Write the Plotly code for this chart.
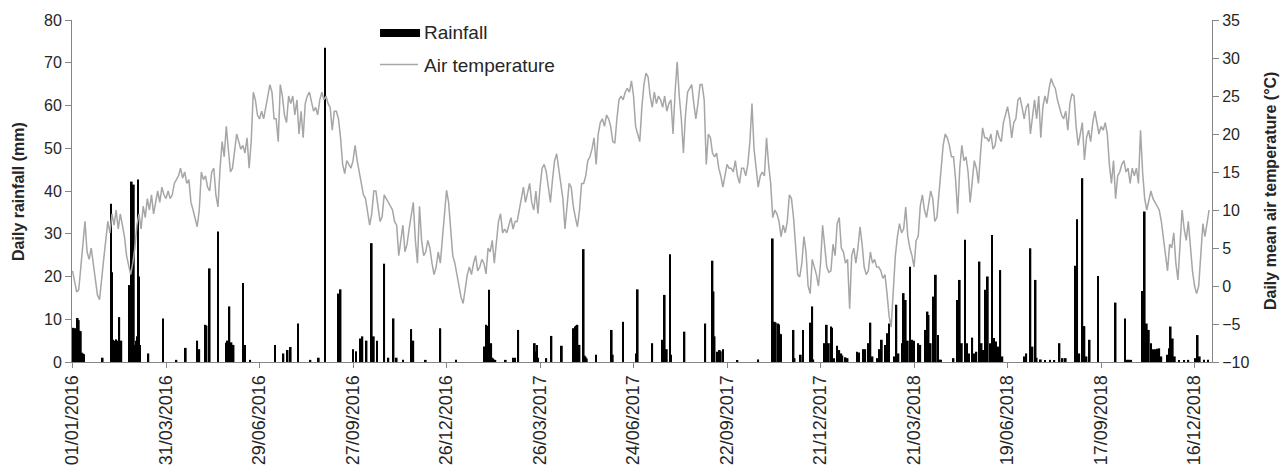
import pandas as pd
import plotly.graph_objects as go

record_start = "2016-01-01"

# Daily mean air temperature (°C), one reading every second day from 1 Jan 2016
temp_c = [
    2.0, 0.5, -0.8, -0.5, 2.5, 5.0, 8.5, 4.5, 3.5, 5.0,
    3.0, 1.5, -1.2, -1.8, 0.5, 3.5, 6.0, 8.5, 7.0, 9.5,
    8.0, 10.0, 7.5, 9.5, 8.0, 6.5, 4.0, 2.5, 1.5, 3.0,
    5.0, 8.0, 9.5, 7.5, 10.5, 9.0, 11.5, 10.0, 12.0, 9.5,
    11.0, 12.5, 11.0, 13.0, 12.0, 11.5,
    12.5, 11.5, 12.0, 13.5, 14.0, 14.5, 15.5, 14.2, 15.0, 13.5,
    14.0, 11.0, 10.0, 9.0, 7.8, 10.0, 15.0, 14.0, 14.5, 13.0,
    12.5, 15.0, 15.5, 12.0, 10.4, 15.5, 19.0, 17.0, 21.0, 18.0,
    15.0, 15.5, 17.5, 20.0, 19.0, 18.0, 18.5, 17.5, 19.5, 15.5,
    19.0, 25.5, 24.5, 22.5, 22.0, 23.0, 22.0, 23.5, 24.5, 26.5,
    25.5, 22.0,
    22.0, 19.0, 26.5, 25.0, 22.5, 21.5, 25.0, 24.0, 25.0, 22.5,
    24.5, 20.0, 23.0, 19.5, 24.0, 25.0, 25.5, 24.0, 23.0, 23.5,
    22.5, 24.5, 25.5, 24.5, 25.0, 24.0, 23.5, 20.5, 23.0, 23.0,
    22.0, 19.5, 16.0, 14.8, 16.5, 16.0, 15.5, 16.5, 18.5, 16.5,
    15.0, 14.0, 12.0, 11.5, 10.0, 8.0, 9.5, 12.5, 12.5, 10.5,
    8.5,
    9.1, 12.0, 11.5, 11.0, 10.5, 10.0, 8.5, 8.0, 4.0, 6.0,
    8.0, 4.5, 5.5, 7.5, 9.5, 11.0, 6.0, 3.0, 10.5, 6.0,
    4.0, 4.5, 6.0, 5.0, 3.0, 1.5, 2.5, 4.5, 3.0, 6.5,
    10.0, 12.6, 11.0, 7.0, 4.0, 3.0, 1.5, -0.5, -1.5, -2.3,
    -0.5, 1.5, 2.5, 1.5, 3.0, 4.0, 2.0, 2.5, 3.5, 3.0,
    1.6, 5.0, 4.5, 6.0, 3.0, 5.5, 8.5, 9.5, 7.0, 7.5,
    7.0, 8.0, 9.0, 7.5, 8.5, 8.5, 10.0, 11.5, 13.0, 11.0,
    12.5, 13.5, 11.0, 10.0, 12.5, 9.5, 13.0, 15.5, 16.0, 15.0,
    13.0, 11.0, 14.0, 16.5, 17.4, 15.5, 13.5, 11.5, 7.5, 10.5,
    13.5, 13.0, 10.5, 9.0, 7.8, 10.0, 13.5, 13.5, 14.5, 16.5,
    17.0, 18.0, 19.5, 16.0, 20.0, 21.5, 22.0, 21.0, 22.5, 22.0,
    21.0, 19.0, 18.8, 22.0, 24.5, 25.0, 24.5, 25.5,
    26.0, 25.5, 27.0, 25.0, 21.0, 20.0, 19.0, 23.5, 26.5, 28.0,
    27.5, 25.0, 23.5, 25.5, 24.0, 25.0, 24.5, 23.5, 25.0, 23.0,
    24.0, 24.5, 20.0, 25.5, 29.5, 25.0, 22.0, 17.5, 22.5, 25.5,
    26.0, 26.5, 24.0, 22.0, 24.0, 26.5, 26.5, 24.5, 16.0, 20.0,
    19.5, 17.5, 17.0, 17.5, 15.5, 14.5, 13.0, 14.5, 16.0, 15.5,
    15.5, 15.0, 16.5, 14.5, 13.5, 15.5, 15.5, 14.5, 16.0, 19.0,
    24.0, 18.0, 15.0, 13.0, 14.5, 15.0, 14.5, 19.5, 16.0, 13.5,
    9.0, 10.0, 9.5, 8.5, 6.5, 8.0, 7.0, 8.5, 12.0, 11.5,
    9.0, 4.5, 1.5, 1.2, 3.0, 6.5, 4.5, 0.0, -1.0, 3.5,
    2.5, 1.5, 0.0, 3.0, 8.0, 5.0, 2.5, 1.8, 2.0, 5.5,
    4.0, 8.2, 9.0, 5.0, 4.5, 3.0, 3.5, -3.0, 4.0, 5.0,
    3.0, 5.0, 7.8, 5.5, 2.5, 1.5, 2.0, 4.5, 3.0, 3.5,
    2.5, 2.5, 2.0, 1.0, 1.5, -1.0, -4.0, -5.4, -1.0, 4.0,
    6.5, 8.2, 7.0, 7.5, 10.4, 6.5, 5.0, 4.0, 2.5, 6.0,
    6.5,
    10.5, 12.0, 10.0, 9.0, 10.5, 12.5, 11.5, 8.5, 9.0, 12.5,
    15.5, 18.5, 20.0, 19.5, 18.5, 17.0, 17.0, 14.0, 9.5, 15.5,
    18.5, 16.5, 17.0, 15.0, 11.0, 14.0, 16.5, 15.5, 13.5, 17.5,
    20.8, 19.5, 19.5, 19.0, 20.0, 18.0, 18.5, 20.5, 19.5, 19.0,
    21.5, 22.5, 23.6, 22.0, 19.5, 21.5, 22.0, 24.5, 24.8, 23.5,
    22.0, 23.5, 24.0, 20.0, 22.5, 24.5, 22.0, 25.0, 19.5, 23.5,
    25.0, 24.0, 26.0, 27.3, 26.5, 26.0, 24.5, 23.5, 22.5, 22.0,
    23.0, 20.5, 24.0, 25.3, 25.0, 21.0, 18.5, 20.0, 21.5, 16.6,
    19.5, 20.5, 19.0, 21.5, 23.0, 21.5, 20.0, 21.0, 20.5, 21.5,
    20.0, 16.0, 13.5, 16.5, 11.5, 14.5, 15.0, 16.0, 16.5, 15.0,
    15.5, 13.5, 15.5, 14.5, 15.5, 13.5, 20.5, 15.0, 11.5, 10.0,
    11.5, 12.5, 11.5, 11.0, 10.5, 10.0, 8.5, 6.5, 4.0, 2.0,
    5.5, 5.0, 7.0, 3.0, 0.8, 5.5, 10.0, 7.5, 6.0, 8.5,
    5.0, 2.0, 0.0, -1.0, 0.0, 4.0, 8.2, 6.5, 8.0, 10.0,
]

# Rain days: day number counted from 1 Jan 2016, with the depth measured that day (mm)
rain_day = [
    0, 1, 2, 3, 4, 5, 6, 7, 8, 9, 10, 11,
    29,
    37, 38, 39, 40, 41, 42, 43, 45, 47,
    55, 56, 57, 58, 59, 60, 61, 62, 63, 64, 65,
    73, 87, 100, 109, 120, 122, 128, 129, 132, 140,
    148, 149, 151, 153, 155, 164, 166, 171,
    195, 203, 207, 210, 217, 229, 237, 243,
    256, 258, 270, 273, 277, 279, 283, 288, 290, 293,
    300, 304, 309, 312, 318, 326, 328, 340, 354,
    369,
    396, 398, 399, 401, 403, 404, 405, 406, 407,
    417, 424, 426, 429, 445, 446, 447, 448,
    456, 461, 471, 482, 483, 484, 485, 486, 488,
    492, 493, 494, 495, 504, 519, 520, 530, 543, 544,
    558, 568, 570, 572, 575, 576, 589, 609,
    616, 617, 618, 621, 623, 624, 626, 640, 660,
    674, 676, 677, 679, 680, 681, 682, 694, 695,
    701, 703, 710, 712, 713, 724, 726, 728, 730,
    731, 733, 736, 738, 740, 741, 744, 746,
    755, 757, 761, 763, 766, 768, 770,
    775, 777, 779, 782, 784, 786,
    791, 793, 795, 799, 800, 802, 804, 806, 808, 810, 814, 816,
    821, 823, 824, 826, 829, 831, 833, 834, 835, 836,
    848, 852, 854, 856, 859, 861, 863, 866, 868, 870,
    873, 875, 877, 879, 881, 883, 885, 887, 889, 891, 893, 895,
    916, 918, 922, 924, 927, 928, 932, 936, 941, 945, 950, 953, 956,
    965, 967, 969, 972, 974, 976, 979, 987, 1004,
    1013, 1015, 1017, 1019,
    1030, 1032, 1034, 1036, 1038, 1040, 1042, 1044, 1046, 1048,
    1054, 1056, 1057, 1059, 1061, 1065, 1070, 1074,
    1081, 1083, 1085, 1089, 1093,
]
rain_mm = [
    7.8, 8.0, 7.6, 7.9, 3.8, 10.3, 9.8, 7.3, 7.2, 2.2, 2.0, 1.8,
    1.0,
    37.0, 21.0, 5.2, 5.0, 4.8, 5.3, 5.0, 10.5, 5.0,
    18.0, 5.0, 42.2, 4.0, 41.5, 4.0, 5.0, 6.0, 42.7, 20.0, 4.0,
    2.0, 10.2, 0.5, 3.3, 5.0, 3.0, 8.7, 8.5, 21.9, 30.5,
    4.5, 5.0, 13.0, 4.6, 4.0, 18.5, 4.0, 0.5,
    4.0, 2.0, 2.8, 3.5, 9.0, 0.5, 1.0, 73.5,
    16.0, 17.0, 3.0, 2.5, 5.5, 6.0, 5.0, 27.8, 6.0, 5.0,
    23.0, 1.0, 10.2, 1.0, 0.5, 7.7, 5.0, 0.5, 7.9,
    0.5,
    3.6, 8.7, 8.5, 16.9, 4.4, 1.0, 0.8, 0.5, 0.5,
    0.5, 1.0, 1.0, 7.5, 4.4, 2.5, 4.0, 1.0,
    0.9, 6.1, 3.8, 7.9, 2.0, 8.3, 8.5, 8.7, 4.0,
    26.4, 1.5, 1.2, 0.8, 1.7, 7.5, 1.7, 9.4, 2.0, 17.0,
    4.4, 5.2, 15.7, 3.0, 25.2, 1.7, 7.1, 9.0,
    23.7, 16.5, 6.0, 2.4, 2.8, 2.5, 3.0, 0.3, 0.6,
    28.9, 9.4, 9.2, 9.0, 8.8, 6.6, 6.5, 7.5, 0.9,
    1.7, 7.5, 9.2, 13.0, 0.6, 4.4, 8.7, 4.4, 8.3,
    8.0, 0.9, 3.8, 2.8, 2.0, 1.5, 1.1, 0.9,
    2.4, 2.2, 3.0, 3.0, 4.4, 9.2, 1.3,
    0.9, 3.0, 5.2, 4.0, 6.7, 9.0,
    1.3, 13.4, 2.0, 4.4, 16.1, 14.5, 5.0, 22.3, 5.2, 5.0, 4.4, 4.0,
    7.5, 11.8, 11.0, 4.4, 15.3, 20.4, 6.3, 0.5, 0.5, 0.5,
    0.9, 14.5, 19.2, 4.4, 28.6, 4.4, 2.0, 5.7, 2.0, 2.4,
    23.5, 4.4, 2.8, 16.9, 20.0, 4.4, 29.7, 5.6, 4.8, 3.6, 21.5, 1.3,
    1.3, 2.0, 26.6, 3.6, 19.2, 1.0, 0.6, 0.4, 0.5, 0.4, 4.4, 0.9, 0.9,
    22.5, 33.4, 2.0, 43.0, 8.4, 1.3, 5.2, 20.1, 13.9,
    10.2, 0.5, 0.5, 0.5,
    16.6, 35.2, 9.0, 7.5, 4.4, 3.0, 3.0, 3.1, 3.2, 1.3,
    1.7, 3.2, 8.3, 5.5, 1.3, 0.4, 0.4, 0.5,
    0.9, 6.3, 1.3, 0.5, 0.5,
]

tick_labels = [
    "01/01/2016", "31/03/2016", "29/06/2016", "27/09/2016", "26/12/2016",
    "26/03/2017", "24/06/2017", "22/09/2017", "21/12/2017", "21/03/2018",
    "19/06/2018", "17/09/2018", "16/12/2018",
]

start = pd.Timestamp(record_start)
temp_dates = pd.date_range(start, periods=len(temp_c), freq="2D")
rain_dates = start + pd.to_timedelta(rain_day, unit="D")
tick_dates = pd.date_range(start, periods=len(tick_labels), freq="90D")

DAY_MS = 86400000
FONT = "Liberation Sans, Arial, sans-serif"
AXIS_GREY = "#868686"
TEXT = "#262626"

fig = go.Figure()
fig.add_trace(go.Bar(
    x=rain_dates, y=rain_mm, name="Rainfall",
    width=1.7 * DAY_MS,
    marker=dict(color="#000000", line=dict(width=0)),
    yaxis="y",
))
fig.add_trace(go.Scatter(
    x=temp_dates, y=temp_c, name="Air temperature",
    mode="lines", line=dict(color="#a6a6a6", width=1.5),
    yaxis="y2",
))

x_range = [start - pd.Timedelta(hours=12), start + pd.Timedelta(days=1096, hours=19)]

fig.update_layout(
    width=1287, height=475,
    margin=dict(l=72, r=75, t=20, b=113),
    paper_bgcolor="white", plot_bgcolor="white",
    showlegend=False,
    font=dict(family=FONT, color=TEXT, size=16),
    xaxis=dict(
        type="date", range=x_range, automargin=False,
        tickvals=tick_dates, ticktext=tick_labels, tickangle=-90,
        tickfont=dict(size=18, color=TEXT),
        showgrid=False, zeroline=False,
        showline=True, linecolor=AXIS_GREY, linewidth=1,
        ticks="outside", ticklen=5, tickcolor=AXIS_GREY,
    ),
    yaxis=dict(
        range=[0, 80], dtick=10, tick0=0, automargin=False,
        tickfont=dict(size=16, color=TEXT),
        showgrid=False, zeroline=False,
        showline=True, linecolor=AXIS_GREY, linewidth=1,
        ticks="outside", ticklen=6, tickcolor=AXIS_GREY,
    ),
    yaxis2=dict(
        range=[-10, 35], dtick=5, tick0=-10, automargin=False,
        overlaying="y", side="right",
        tickfont=dict(size=16, color=TEXT),
        showgrid=False, zeroline=False,
        showline=True, linecolor=AXIS_GREY, linewidth=1,
        ticks="outside", ticklen=6, tickcolor=AXIS_GREY,
    ),
)

# Axis titles
fig.add_annotation(
    xref="paper", yref="paper", x=-0.0474, y=0.5,
    text="<b>Daily rainfall (mm)</b>", textangle=-90, showarrow=False,
    font=dict(size=16, color=TEXT), xanchor="center", yanchor="middle",
)
fig.add_annotation(
    xref="paper", yref="paper", x=1.0509, y=0.5,
    text="<b>Daily mean air temperature (°C)</b>", textangle=-90, showarrow=False,
    font=dict(size=16, color=TEXT), xanchor="center", yanchor="middle",
)

# Legend key drawn inside the plot area
fig.add_shape(type="rect", xref="paper", yref="paper",
              x0=0.2702, x1=0.3053, y0=0.9503, y1=0.9737,
              fillcolor="#000000", line=dict(width=0))
fig.add_shape(type="line", xref="paper", yref="paper",
              x0=0.2702, x1=0.3035, y0=0.8699, y1=0.8699,
              line=dict(color="#a6a6a6", width=1.5))
fig.add_annotation(xref="paper", yref="paper", x=0.307, y=0.962,
                   text="Rainfall", showarrow=False, xanchor="left", yanchor="middle",
                   font=dict(size=19, color=TEXT))
fig.add_annotation(xref="paper", yref="paper", x=0.307, y=0.8684,
                   text="Air temperature", showarrow=False, xanchor="left", yanchor="middle",
                   font=dict(size=19, color=TEXT))

fig.write_html("out.html")
